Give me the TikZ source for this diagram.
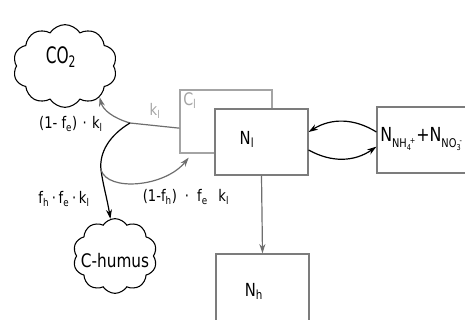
\documentclass[tikz,border=0pt]{standalone}
\usepackage{fontspec}
\setmainfont{DejaVu Sans}[FakeStretch=0.82]
\newfontfamily\narrowsans{DejaVu Sans}[FakeStretch=0.68]
\usetikzlibrary{shapes.symbols,arrows.meta}
\definecolor{boxgray}{HTML}{7C7C7C}
\definecolor{cgray}{HTML}{A4A4A4}
\definecolor{flowgray}{HTML}{6E6E6E}
% small chemical index with a charge written just after it
\newcommand{\ionidx}[3]{\raisebox{-0.55ex}{\fontsize{9}{9}\selectfont #1\raisebox{-0.35ex}{\fontsize{6}{6}\selectfont #2}\kern-0.1em\raisebox{0.7ex}{\fontsize{6}{6}\selectfont #3}}}
\begin{document}
\begin{tikzpicture}[x=0.75pt,y=-0.75pt,
  pool/.style={draw=boxgray,line width=0.9pt,fill=white,inner sep=0pt},
  cpool/.style={draw=cgray,line width=0.9pt,fill=white,inner sep=0pt},
  puffy/.style={cloud,cloud puffs=10,cloud puff arc=115,cloud ignores aspect,
    draw=black,line width=0.8pt,fill=white,inner sep=0pt},
  poolname/.style={font=\fontsize{13.5}{15}\selectfont,inner sep=0pt},
  rate/.style={font=\fontsize{12}{13}\selectfont,inner sep=0pt},
  gflow/.style={draw=flowgray,line width=0.9pt,-{Stealth[length=7pt,width=4.5pt]}},
  kflow/.style={draw=black,line width=0.9pt,-{Stealth[length=7pt,width=4.5pt]}}]
\useasboundingbox (0,0) rectangle (465,320);
\clip (0,0) rectangle (465,320);

% litter carbon pool, partly hidden behind the litter nitrogen pool
\node[cpool,minimum width=69pt,minimum height=47.25pt] (cl) at (226,121.5) {};
\node[anchor=north west,text=cgray,font=\fontsize{13}{15}\selectfont,inner sep=0pt]
  (cltext) at (183,92) {C\textsubscript{l}};

% nitrogen pools
\node[pool,minimum width=69.75pt,minimum height=49.5pt] (nl) at (261.5,142) {};
\node[poolname] (nltext) at (247,139) {N\textsubscript{l}};
\node[pool,minimum width=81pt,minimum height=49.5pt] (nh4) at (431,140) {};
\node[anchor=west,font=\fontsize{14.5}{16}\selectfont,inner sep=0pt] (nh4text) at (380,139)
  {N\ionidx{NH}{4}{+}\kern0.05em+N\ionidx{NO}{3}{-}};
\node[pool,minimum width=69.75pt,minimum height=54pt] (nhum) at (262.5,290) {};
\node[poolname] (nhtext) at (254,291) {N\textsubscript{h}};

% carbon sinks
\node[puffy,minimum width=78pt,minimum height=62pt] (co2) at (65,66) {};
\node[font=\narrowsans\fontsize{17}{19}\selectfont,inner sep=0pt] (co2text) at (61,57) {CO\textsubscript{2}};
\node[puffy,minimum width=63pt,minimum height=56pt] (chum) at (115,256) {};
\node[font=\fontsize{14}{16}\selectfont,inner sep=0pt] (chumtext) at (115,261) {C-humus};

% branch points of the carbon flow
\coordinate (j1) at (130,123);
\coordinate (j2) at (101,170);

% carbon flows
\draw[gflow] ([yshift=-5pt]cl.west) -- (j1) .. controls (113,118) and (103,110) .. (co2.-42);
\draw[kflow] (j1) .. controls (110,135) and (99,152) .. (j2)
  .. controls (103,185) and (107,198) .. (chum.97);
\draw[gflow] (j2) .. controls (108,192) and (165,187) .. ([xshift=7pt,yshift=-3pt]cl.south west);

% nitrogen flows
\draw[kflow] ([yshift=6pt]nh4.west) to[bend right=32] ([yshift=7.5pt]nl.east);
\draw[kflow] ([yshift=-6pt]nl.east) to[bend right=32] ([yshift=-5pt]nh4.west);
\draw[gflow] (nl.south) -- (nhum.north);

% rate labels
\node[rate,text=cgray] (kl) at (155,111) {k\textsubscript{l}};
\node[rate] (r1) at (71,124) {(1- f\textsubscript{e})\,\,·\,\,k\textsubscript{l}};
\node[rate] (r2) at (64,199) {f\textsubscript{h}\,·\,f\textsubscript{e}\,·\,k\textsubscript{l}};
\node[rate] (r3) at (186,197) {(1-f\textsubscript{h})\,\,\,·\,\,\,f\textsubscript{e}\,\,\,\,k\textsubscript{l}};
\end{tikzpicture}
\end{document}
